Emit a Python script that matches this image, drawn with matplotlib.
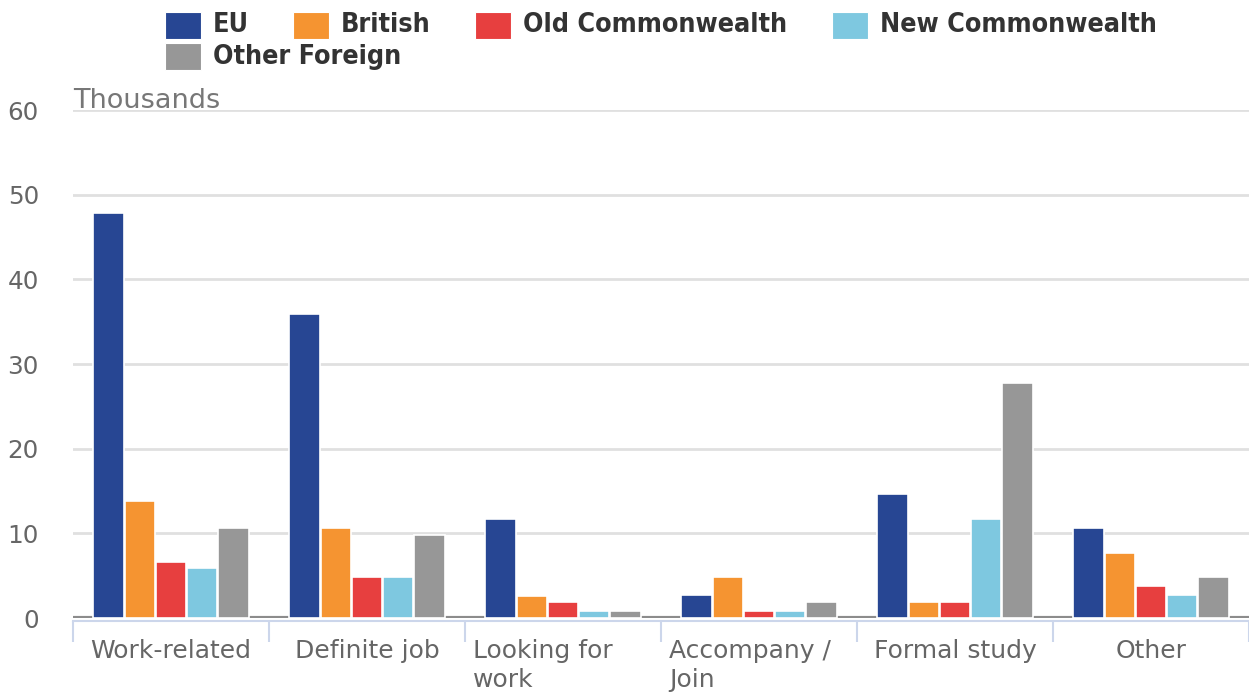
import numpy as np
import matplotlib
matplotlib.use('Agg')
import matplotlib.pyplot as plt
from matplotlib.patches import Rectangle
from matplotlib.transforms import blended_transform_factory

# Reasons for migration, thousands of people
reasons = ['Work-related', 'Definite job', 'Looking for\nwork', 'Accompany /\nJoin', 'Formal study', 'Other']
series = ['EU', 'British', 'Old Commonwealth', 'New Commonwealth', 'Other Foreign']
colors = ['#274693', '#f59431', '#e73f3f', '#7ec8e0', '#979797']

eu = [47.8, 35.9, 11.7, 2.7, 14.6, 10.6]
british = [13.8, 10.6, 2.6, 4.8, 1.9, 7.7]
old_cw = [6.6, 4.8, 1.9, 0.8, 1.9, 3.8]
new_cw = [5.9, 4.8, 0.8, 0.8, 11.7, 2.7]
other_foreign = [10.6, 9.8, 0.8, 1.9, 27.7, 4.8]
values = [eu, british, old_cw, new_cw, other_foreign]

fig = plt.figure(figsize=(12.49, 6.92), dpi=100)
ax = fig.add_axes([73 / 1249, 1 - 618 / 692, 1 - 73 / 1249, 508 / 692])

x = np.arange(len(reasons))
pitch = 0.159
width = 0.155
for j, (vals, col) in enumerate(zip(values, colors)):
    ax.bar(x + (j - 2) * pitch, vals, width, color=col, edgecolor='white',
           linewidth=1.2, zorder=3)

# dark zero line, visible only between groups
ax.axhline(0, color='#8c8c8c', lw=3, zorder=2)

ax.set_xlim(-0.5, len(reasons) - 0.5)
ax.set_ylim(0, 60)
ax.set_yticks(range(0, 61, 10))
ax.yaxis.grid(True, color='#e0e0e0', lw=2, zorder=0)
ax.set_axisbelow(True)
ax.tick_params(axis='y', length=0, pad=24.5, labelsize=17.7, labelcolor='#666666')

for s in ['top', 'right', 'left']:
    ax.spines[s].set_visible(False)
ax.spines['bottom'].set_color('#ccd6eb')
ax.spines['bottom'].set_linewidth(1.5)
ax.spines['bottom'].set_position(('outward', 2))
ax.set_xticks(np.arange(len(reasons) + 1) - 0.5)
ax.set_xticklabels([])
ax.tick_params(axis='x', length=15, width=1.5, color='#ccd6eb', direction='out')

# category labels under each group
tr = blended_transform_factory(ax.transData, ax.transAxes)
for i, name in enumerate(reasons):
    if '\n' in name:
        ax.text(i - 0.5 + 8 / 196, -0.042, name, transform=tr, ha='left', va='top',
                fontsize=18, color='#666666', linespacing=1.25)
    else:
        ax.text(i, -0.042, name, transform=tr, ha='center', va='top',
                fontsize=18, color='#666666')

ax.text(0, 60.25, 'Thousands', fontsize=19.5, color='#777777', ha='left', va='baseline',
        transform=blended_transform_factory(ax.transAxes, ax.transData))

# legend laid out in rows across the top
legend_pos = [(165, 25.5), (293, 25.5), (475, 25.5), (832, 25.5), (165, 56.5)]
for name, col, (px, py) in zip(series, colors, legend_pos):
    fig.patches.append(Rectangle((px / 1249, 1 - (py + 13.5) / 692), 36 / 1249, 27 / 692,
                                 transform=fig.transFigure, facecolor=col,
                                 edgecolor='white', lw=0.8))
    fig.text((px + 48) / 1249, 1 - py / 692, name, ha='left', va='center',
             fontsize=19.3, fontweight='bold', fontstretch='condensed',
             color='#333333')

fig.savefig('out.png', dpi=100)
